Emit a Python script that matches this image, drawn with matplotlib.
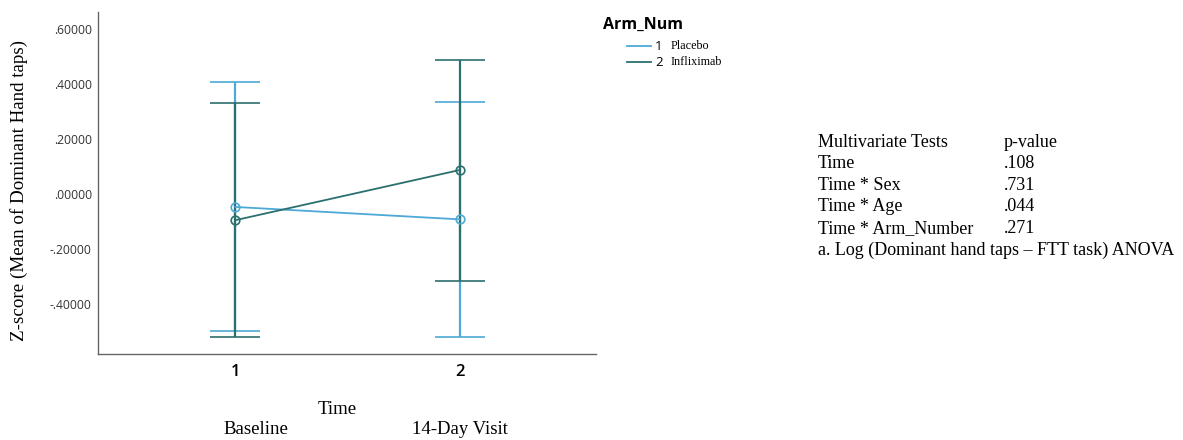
import matplotlib
matplotlib.use("Agg")
import matplotlib.pyplot as plt

# Data
time_points = [1, 2]
time_labels = ["1", "2"]
visit_labels = ["Baseline", "14-Day Visit"]
placebo_mean = [-0.048, -0.093]
placebo_upper = [0.406, 0.334]
placebo_lower = [-0.500, -0.521]
inflix_mean = [-0.096, 0.086]
inflix_upper = [0.330, 0.487]
inflix_lower = [-0.521, -0.316]
y_ticks = [-0.4, -0.2, 0.0, 0.2, 0.4, 0.6]
y_tick_labels = ["-.40000", "-.20000", ".00000", ".20000", ".40000", ".60000"]
legend_codes = ["1", "2"]
legend_names = ["Placebo", "Infliximab"]
table_rows = ["Multivariate Tests", "Time", "Time * Sex", "Time * Age", "Time * Arm_Number"]
table_vals = ["p-value", ".108", ".731", ".044", ".271"]
table_note = "a. Log (Dominant hand taps \u2013 FTT task) ANOVA"

c_placebo = "#4da9d6"
c_inflix = "#2b6f6e"
serif = "Liberation Serif"

fig = plt.figure(figsize=(11.83, 4.4), dpi=100)
ax = fig.add_axes([98 / 1183, 1 - 354 / 440, (596 - 98) / 1183, (354 - 12) / 440])

for mean, up, lo, col in [(placebo_mean, placebo_upper, placebo_lower, c_placebo),
                          (inflix_mean, inflix_upper, inflix_lower, c_inflix)]:
    yerr = [[m - l for m, l in zip(mean, lo)], [u - m for m, u in zip(mean, up)]]
    ax.errorbar(time_points, mean, yerr=yerr, color=col, lw=1.3, capsize=18,
                capthick=1.5, elinewidth=1.6, marker="o", ms=6.2, mfc="none",
                mec=col, mew=1.2)

ax.set_xlim(0.387, 2.609)
ax.set_ylim(-0.582, 0.660)
ax.set_xticks(time_points)
ax.set_xticklabels(time_labels, fontsize=12, fontfamily="Open Sans", fontweight="semibold")
ax.set_yticks(y_ticks)
ax.set_yticklabels(y_tick_labels, fontsize=8.7, fontfamily="Open Sans", color="#333333")
ax.tick_params(length=0)
ax.tick_params(axis="x", pad=7.5)
ax.tick_params(axis="y", pad=4.5)
for s in ["top", "right"]:
    ax.spines[s].set_visible(False)
for s in ["left", "bottom"]:
    ax.spines[s].set_color("#666666")
    ax.spines[s].set_linewidth(1.0)

fig.text(19 / 1183, 1 - 190 / 440, "Z-score (Mean of Dominant Hand taps)", rotation=90,
         ha="center", va="center", fontsize=13.7, fontfamily=serif)
fig.text(337 / 1183, 1 - 409 / 440, "Time", ha="center", va="center",
         fontsize=13.5, fontfamily=serif)
fig.text(256 / 1183, 1 - 429 / 440, visit_labels[0], ha="center", va="center",
         fontsize=13.5, fontfamily=serif)
fig.text(460 / 1183, 1 - 429 / 440, visit_labels[1], ha="center", va="center",
         fontsize=13.5, fontfamily=serif)

# Legend
fig.text(603 / 1183, 1 - 25 / 440, "Arm_Num", ha="left", va="center",
         fontsize=11.5, fontweight="bold", fontfamily="Open Sans")
for i, (code, name, col) in enumerate(zip(legend_codes, legend_names,
                                          [c_placebo, c_inflix])):
    y = 1 - (46 + i * 16) / 440
    fig.add_artist(plt.Line2D([627 / 1183, 651 / 1183], [y, y], color=col,
                              lw=1.3, transform=fig.transFigure))
    fig.text(655 / 1183, y, code, ha="left", va="center", fontsize=9.5,
             fontfamily="Open Sans")
    fig.text(671 / 1183, y, name, ha="left", va="center", fontsize=8.7,
             fontfamily=serif)

# Table
for i, (r, v) in enumerate(zip(table_rows, table_vals)):
    y = 1 - (142 + i * 21.6) / 440
    fig.text(818 / 1183, y, r, ha="left", va="center", fontsize=13, fontfamily=serif)
    fig.text(1004 / 1183, y, v, ha="left", va="center", fontsize=13, fontfamily=serif)
fig.text(818 / 1183, 1 - (142 + 5 * 21.6) / 440, table_note, ha="left",
         va="center", fontsize=13, fontfamily=serif)

fig.savefig("out.png", dpi=100)
